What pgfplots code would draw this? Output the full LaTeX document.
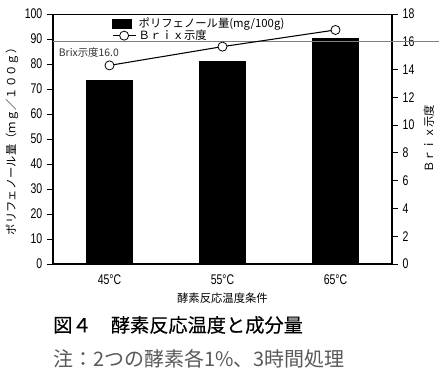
\documentclass[border=0pt]{standalone}
\usepackage{fontspec}
\setmainfont{Liberation Sans}
\newfontfamily\jp{Noto Sans CJK JP}
\newfontfamily\jpb[FakeBold=0.25]{Noto Sans CJK JP}
\newfontfamily\narrow[FakeStretch=0.75]{Liberation Sans}
\usepackage{pgfplots}
\pgfplotsset{compat=1.18}
\pgfplotstableread{
x poly
0 73.5
1 81.0
2 90.3
}\polytab
\pgfplotstableread{
x brix
0 14.3
1 15.65
2 16.85
}\brixtab
\begin{document}
\begin{tikzpicture}[x=0.75pt,y=0.75pt]
\path[use as bounding box] (0,0) rectangle (440,373);
\pgfplotsset{
  every axis/.append style={
    at={(39.75pt,81.75pt)}, anchor=south west,
    scale only axis, width=254.25pt, height=187.5pt,
    xmin=-0.5, xmax=2.5,
    /pgf/number format/assume math mode=true,
    tick label style={font=\narrow\fontsize{10.5}{12}\selectfont},
    label style={font=\jp\fontsize{8.5}{10}\selectfont},
    axis line style={-, line width=1pt},
    major tick length=4.5pt,
    tick style={black, line width=0.6pt},
  }
}
\begin{axis}[
  axis x line*=bottom, axis y line*=left,
  ymin=0, ymax=100, ytick={0,10,...,100},
  tick align=outside,
  xtick={0,1,2}, xticklabels={45°C,55°C,65°C},
  x tick style={draw=none},
  extra x ticks={0.5,1.5}, extra x tick labels={},
  extra x tick style={tick align=inside, tick style={draw=black, line width=0.6pt}, major tick length=3.5pt},
  xlabel={酵素反応温度条件},
  xlabel style={yshift=5pt},
  ylabel={ポリフェノール量（ｍｇ／１００ｇ）},
  ylabel style={yshift=-2pt},
]
\addplot[ybar, bar width=34.5pt, fill=black, draw=black] table[x=x,y=poly]{\polytab};
\draw[line width=0.5pt] (rel axis cs:0,1) -- (rel axis cs:1,1);
\end{axis}
\begin{axis}[
  axis y line*=right, axis x line=none,
  ymin=0, ymax=18, ytick={0,2,...,18},
  tick align=outside,
  clip=false,
  ylabel={Ｂｒｉｘ示度},
  legend style={at={(0.17,1)}, anchor=north west, draw=none, fill=none,
    font=\jp\fontsize{8.5}{9}\selectfont, inner sep=1pt, row sep=-4pt,
    /tikz/every even column/.append style={column sep=1pt}},
  legend cell align=left,
]
\addlegendimage{legend image code/.code={\fill[black] (0cm,-0.12cm) rectangle (0.5cm,0.12cm);}}
\addlegendentry{ポリフェノール量(mg/100g)}
\addplot[gray, line width=0.8pt, forget plot] coordinates {(-0.5,16) (2.92,16)};
\addplot[black, line width=0.8pt, mark=*, mark size=3.4pt, mark options={fill=white, draw=black, line width=0.6pt}] table[x=x,y=brix]{\brixtab};
\addlegendentry{Ｂｒｉｘ示度}
\node[anchor=west, font=\jp\fontsize{7.8}{9}\selectfont, text=black!80, inner sep=0pt] at (axis cs:-0.45,15.2) {Brix示度16.0};
\end{axis}
\node[anchor=west, font=\jpb\fontsize{14.4}{16}\selectfont, inner sep=0pt] at (53,48) {図４　酵素反応温度と成分量};
\node[anchor=west, font=\jp\fontsize{15}{17}\selectfont, text=black!65, inner sep=0pt] at (53,14) {注：2つの酵素各1\%、3時間処理};
\end{tikzpicture}
\end{document}
